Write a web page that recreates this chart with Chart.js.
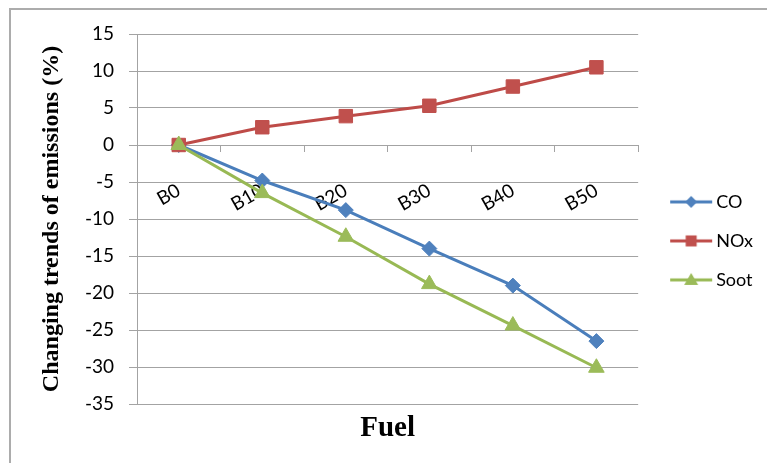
<!DOCTYPE html>
<html>
<head>
<meta charset="utf-8">
<title>Changing trends of emissions</title>
<script src="https://cdn.jsdelivr.net/npm/chart.js@4.4.1/dist/chart.umd.min.js"></script>
<style>
  html, body { margin: 0; padding: 0; background: #ffffff; overflow: hidden; }
  #wrap { position: relative; width: 767px; height: 463px; }
  #frame { position: absolute; left: 9px; top: 8px; width: 800px; height: 500px;
           border-left: 2px solid #acacac; border-top: 2px solid #acacac; pointer-events: none; }
  #c { position: absolute; left: 0; top: 0; }
</style>
</head>
<body>
<div id="wrap">
  <div id="frame"></div>
  <canvas id="c" width="767" height="463"></canvas>
</div>
<script>
// Fuel blends on the category axis
const fuels = ['B0', 'B10', 'B20', 'B30', 'B40', 'B50'];

// Change of each emission relative to B0 (%)
const coValues   = [0, -4.8, -8.8, -14.0, -19.0, -26.5];
const noxValues  = [0, 2.4, 3.9, 5.3, 7.9, 10.5];
const sootValues = [0, -6.5, -12.4, -18.8, -24.4, -30.1];

// Value axis range and step
const yMin = -35;
const yMax = 15;
const yStep = 5;

const BLUE = '#4A7EBB', BLUE_FILL = '#4F81BD';
const RED = '#BE4B48', RED_FILL = '#C0504D';
const GREEN = '#98B954', GREEN_FILL = '#9BBB59';
const GRID = '#a3a3a3';

// Legend symbol: short line segment with the series marker on it
function legendSymbol(lineColor, fill, shape) {
  const c = document.createElement('canvas');
  c.width = 60; c.height = 20;
  const g = c.getContext('2d');
  g.strokeStyle = lineColor;
  g.lineWidth = 3;
  g.beginPath(); g.moveTo(17, 10); g.lineTo(59, 10); g.stroke();
  g.fillStyle = fill;
  g.beginPath();
  const cx = 38, cy = 10;
  if (shape === 'diamond') {
    g.moveTo(cx, cy - 6); g.lineTo(cx + 6, cy); g.lineTo(cx, cy + 6); g.lineTo(cx - 6, cy);
  } else if (shape === 'square') {
    g.rect(cx - 5.5, cy - 5.5, 11, 11);
  } else {
    g.moveTo(cx, cy - 7); g.lineTo(cx + 7, cy + 5); g.lineTo(cx - 7, cy + 5);
  }
  g.closePath();
  g.fill();
  return c;
}
const symbols = [
  legendSymbol(BLUE, BLUE_FILL, 'diamond'),
  legendSymbol(RED, RED_FILL, 'square'),
  legendSymbol(GREEN, GREEN_FILL, 'triangle')
];

Chart.defaults.font.family = 'Lato';
Chart.defaults.color = '#000000';

new Chart(document.getElementById('c'), {
  type: 'line',
  data: {
    labels: fuels,
    datasets: [
      { label: 'CO', data: coValues, borderColor: BLUE, backgroundColor: BLUE_FILL,
        pointStyle: 'rectRot', pointRadius: 7.5, pointBorderColor: BLUE_FILL, pointBorderWidth: 1,
        borderWidth: 3, tension: 0, order: 2 },
      { label: 'NOx', data: noxValues, borderColor: RED, backgroundColor: RED_FILL,
        pointStyle: 'rect', pointRadius: 9.5, pointBorderColor: RED_FILL, pointBorderWidth: 1,
        borderWidth: 3, tension: 0, order: 1 },
      { label: 'Soot', data: sootValues, borderColor: GREEN, backgroundColor: GREEN_FILL,
        pointStyle: 'triangle', pointRadius: 9, pointBorderColor: GREEN_FILL, pointBorderWidth: 1,
        borderWidth: 3, tension: 0, order: 0 }
    ]
  },
  options: {
    responsive: false,
    animation: false,
    events: [],
    layout: { padding: { left: 37.6, top: 34, right: 4, bottom: 15.2 } },
    scales: {
      x: {
        position: { y: 0 },
        offset: true,
        ticks: { font: { family: 'Lato', size: 19 }, color: '#000', minRotation: 30, maxRotation: 30,
                 autoSkip: false, padding: 28 },
        grid: { offset: true, drawOnChartArea: false, drawTicks: true, tickLength: 6, color: GRID, lineWidth: 1 },
        border: { color: GRID, width: 1 }
      },
      y: {
        min: yMin,
        max: yMax,
        ticks: { stepSize: yStep, font: { family: 'Lato', size: 19 }, color: '#000', padding: 15 },
        grid: { color: GRID, lineWidth: 1, tickLength: 8, drawTicks: true },
        border: { color: GRID, width: 1 },
        title: { display: true, text: 'Changing trends of emissions (%)', color: '#000',
                 font: { family: 'Liberation Serif', size: 24, weight: 'bold' }, padding: { top: 0, bottom: 0 } },
        afterFit(scale) { scale.width = 137 - 37.6; }
      }
    },
    plugins: {
      tooltip: { enabled: false },
      title: {
        display: true, position: 'bottom', fullSize: false, text: 'Fuel', color: '#000',
        font: { family: 'Liberation Serif', size: 29, weight: 'bold' }, padding: { top: 7, bottom: 2 }
      },
      legend: {
        position: 'right',
        labels: {
          usePointStyle: true,
          pointStyleWidth: 48,
          boxHeight: 18,
          padding: 21,
          color: '#000',
          font: { family: 'Lato', size: 18 },
          generateLabels(chart) {
            return chart.data.datasets.map((ds, i) => ({
              text: ds.label,
              pointStyle: symbols[i],
              fillStyle: ds.backgroundColor,
              strokeStyle: ds.borderColor,
              lineWidth: 0,
              fontColor: '#000',
              hidden: !chart.isDatasetVisible(i),
              datasetIndex: i
            }));
          }
        }
      }
    }
  }
});
</script>
</body>
</html>
